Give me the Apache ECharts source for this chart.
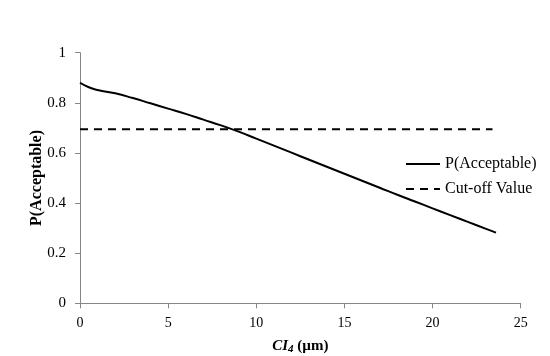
<!DOCTYPE html>
<html>
<head>
<meta charset="utf-8">
<script src="https://cdn.jsdelivr.net/npm/echarts@6/dist/echarts.min.js"></script>
<style>html,body{margin:0;padding:0;background:#fff;}#c{width:550px;height:356px;}</style>
</head>
<body>
<div id="c"></div>
<script>
const xValues = [0, 0.5, 1, 2, 3, 4, 5, 6, 7, 8, 9, 10, 11, 12, 13, 14, 15, 16, 17, 18, 19, 20, 21, 22, 23, 23.6];
const pAcceptable = [0.880, 0.862, 0.851, 0.838, 0.819, 0.798, 0.777, 0.756, 0.733, 0.710, 0.685, 0.657, 0.629, 0.601, 0.573, 0.545, 0.517, 0.489, 0.461, 0.433, 0.406, 0.379, 0.352, 0.325, 0.298, 0.282];
const cutoffX = [0, 23.4];
const cutoffValue = [0.695, 0.695];
const seriesNames = ['P(Acceptable)', 'Cut-off Value'];

const font = 'Liberation Serif';
const chart = echarts.init(document.getElementById('c'));
chart.setOption({
  animation: false,
  backgroundColor: '#fff',
  grid: { left: 80, right: 29.3, top: 52.7, bottom: 52.7, containLabel: false, outerBoundsMode: 'none' },
  legend: {
    orient: 'vertical',
    left: 405,
    top: 156,
    padding: 0,
    itemWidth: 34,
    itemHeight: 12,
    itemGap: 9,
    itemStyle: { opacity: 0 },
    textStyle: { fontFamily: font, fontSize: 16, color: '#000' },
    data: seriesNames
  },
  xAxis: {
    type: 'value',
    min: 0, max: 25, interval: 5,
    axisLine: { lineStyle: { color: '#868686', width: 1 } },
    axisTick: { show: true, length: 5, lineStyle: { color: '#868686' } },
    splitLine: { show: false },
    axisLabel: { margin: 13, fontFamily: font, fontSize: 14, color: '#000' },
    name: '{i|CI}{s|4}{n| (µm)}',
    nameLocation: 'middle',
    nameGap: 34,
    nameTextStyle: {
      rich: {
        i: { fontFamily: font, fontSize: 15, fontWeight: 'bold', fontStyle: 'italic', color: '#000' },
        s: { fontFamily: font, fontSize: 11, fontWeight: 'bold', fontStyle: 'italic', color: '#000', verticalAlign: 'bottom', padding: [6, 0, 0, 0] },
        n: { fontFamily: font, fontSize: 15, fontWeight: 'bold', color: '#000' }
      }
    }
  },
  yAxis: {
    type: 'value',
    min: 0, max: 1, interval: 0.2,
    axisLine: { show: true, lineStyle: { color: '#868686', width: 1 } },
    axisTick: { show: true, length: 5, lineStyle: { color: '#868686' } },
    splitLine: { show: false },
    axisLabel: { margin: 14, fontFamily: font, fontSize: 15, color: '#000' },
    name: 'P(Acceptable)',
    nameLocation: 'middle',
    nameGap: 35,
    nameMoveOverlap: false,
    nameTextStyle: { fontFamily: font, fontSize: 16, fontWeight: 'bold', color: '#000' }
  },
  series: [
    {
      name: seriesNames[0],
      type: 'line',
      data: xValues.map((x, i) => [x, pAcceptable[i]]),
      smooth: true,
      symbol: 'none',
      lineStyle: { color: '#000', width: 2 },
      itemStyle: { color: '#000' }
    },
    {
      name: seriesNames[1],
      type: 'line',
      data: cutoffX.map((x, i) => [x, cutoffValue[i]]),
      symbol: 'none',
      lineStyle: { color: '#000', width: 2, type: [8, 6] },
      itemStyle: { color: '#000' }
    }
  ]
});
</script>
</body>
</html>
